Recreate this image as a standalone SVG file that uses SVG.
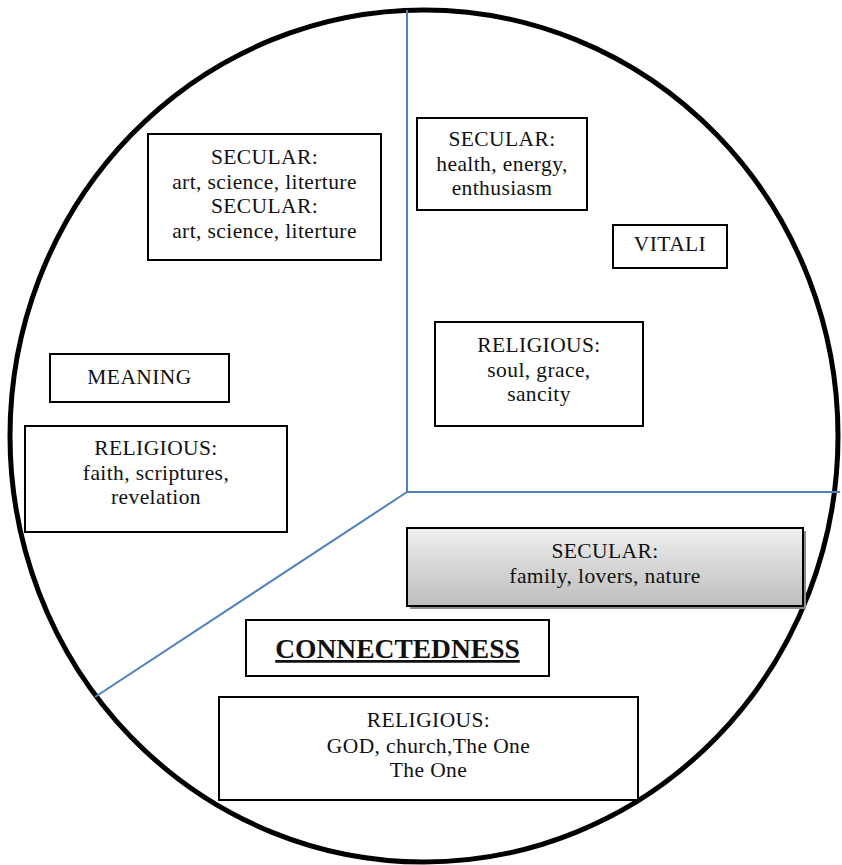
<svg xmlns="http://www.w3.org/2000/svg" width="842" height="865" viewBox="0 0 842 865">
  <defs>
    <linearGradient id="grayFill" x1="0" y1="0" x2="0" y2="1">
      <stop offset="0" stop-color="#efefef"/>
      <stop offset="1" stop-color="#bdbdbd"/>
    </linearGradient>
    <style>
      .box { fill: #ffffff; stroke: #000000; stroke-width: 2; }
      .lbl { font-family: "Liberation Serif", "Times New Roman", serif; font-size: 21.5px; letter-spacing: 0.4px; fill: #111111; text-anchor: middle; }
      .title { font-family: "Liberation Serif", "Times New Roman", serif; font-size: 27.5px; font-weight: bold; fill: #111111; text-anchor: middle; text-decoration: underline; }
      .divider { stroke: #4f81bd; stroke-width: 2; fill: none; }
    </style>
  </defs>

  <rect width="842" height="865" fill="#ffffff"/>

  <!-- outer circle -->
  <ellipse id="circle" cx="424" cy="436" rx="414" ry="426" fill="none" stroke="#000000" stroke-width="5"/>

  <!-- sector dividers -->
  <g id="connectors">
    <line class="divider" x1="407" y1="10" x2="407" y2="492"/>
    <line class="divider" x1="407" y1="492" x2="840" y2="492"/>
    <line class="divider" x1="407" y1="492" x2="95" y2="697"/>
  </g>

  <g id="secular-art">
    <rect class="box" x="148" y="134" width="233" height="126"/>
    <text class="lbl" x="264.5" y="164">SECULAR:</text>
    <text class="lbl" x="264.5" y="189">art, science, literture</text>
    <text class="lbl" x="264.5" y="213">SECULAR:</text>
    <text class="lbl" x="264.5" y="238">art, science, literture</text>
  </g>

  <g id="secular-health">
    <rect class="box" x="417" y="118" width="170" height="92"/>
    <text class="lbl" x="502" y="146">SECULAR:</text>
    <text class="lbl" x="502" y="171">health, energy,</text>
    <text class="lbl" x="502" y="195">enthusiasm</text>
  </g>

  <g id="vitali">
    <rect class="box" x="613" y="225" width="114" height="43"/>
    <text class="lbl" x="670" y="251">VITALI</text>
  </g>

  <g id="religious-soul">
    <rect class="box" x="435" y="322" width="208" height="104"/>
    <text class="lbl" x="539" y="352">RELIGIOUS:</text>
    <text class="lbl" x="539" y="377">soul, grace,</text>
    <text class="lbl" x="539" y="401">sancity</text>
  </g>

  <g id="meaning">
    <rect class="box" x="50" y="354" width="179" height="48"/>
    <text class="lbl" x="139.5" y="384">MEANING</text>
  </g>

  <g id="religious-faith">
    <rect class="box" x="25" y="426" width="262" height="106"/>
    <text class="lbl" x="156" y="455">RELIGIOUS:</text>
    <text class="lbl" x="156" y="480">faith, scriptures,</text>
    <text class="lbl" x="156" y="504">revelation</text>
  </g>

  <g id="secular-family">
    <rect x="410" y="531" width="396" height="78" fill="#8c8c8c"/>
    <rect x="407" y="528" width="396" height="78" fill="url(#grayFill)" stroke="#000000" stroke-width="2"/>
    <text class="lbl" x="605" y="558">SECULAR:</text>
    <text class="lbl" x="605" y="583">family, lovers, nature</text>
  </g>

  <g id="connectedness">
    <rect class="box" x="246" y="620" width="303" height="56"/>
    <text class="title" x="397.5" y="658">CONNECTEDNESS</text>
  </g>

  <g id="religious-god">
    <rect class="box" x="219" y="697" width="419" height="103"/>
    <text class="lbl" x="428.5" y="727">RELIGIOUS:</text>
    <text class="lbl" x="428.5" y="753">GOD, church,The One</text>
    <text class="lbl" x="428.5" y="777">The One</text>
  </g>
</svg>
